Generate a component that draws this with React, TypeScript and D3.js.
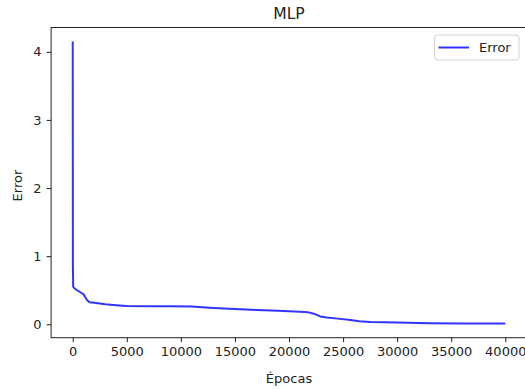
import React, { useEffect, useRef } from 'react';
import * as d3 from 'd3';

// training error
const epochs = [0, 15, 40, 150, 400, 700, 1000, 1150, 1350, 1550, 2000, 3000, 4000, 5000, 7000, 9000, 11000, 12000, 13000, 15000, 17000, 19000, 21000, 21800, 22400, 22900, 23500, 24500, 25500, 26500, 27500, 30000, 33000, 36000, 40000];
const errors = [4.15, 0.88, 0.55, 0.53, 0.5, 0.47, 0.44, 0.4, 0.35, 0.325, 0.315, 0.295, 0.28, 0.268, 0.265, 0.264, 0.26, 0.25, 0.24, 0.225, 0.21, 0.2, 0.185, 0.175, 0.15, 0.115, 0.098, 0.083, 0.065, 0.045, 0.035, 0.025, 0.015, 0.012, 0.01];

const xTicks = [0, 5000, 10000, 15000, 20000, 25000, 30000, 35000, 40000];
const yTicks = [0, 1, 2, 3, 4];

const title = 'MLP';
const xLabel = 'Épocas';
const yLabel = 'Error';
const seriesName = 'Error';

const App = () => {
    const svgRef = useRef<SVGSVGElement>(null);

    useEffect(() => {
        const width = 525;
        const height = 389;
        const left = 51.1, right = 526.9, top = 27.5, bottom = 337.7;
        const font = '"DejaVu Sans", sans-serif';

        const svg = d3.select(svgRef.current);
        svg.selectAll('*').remove();
        svg.attr('width', width).attr('height', height);

        // matplotlib-style 5% margins
        const xMin = d3.min(epochs)!, xMax = d3.max(epochs)!;
        const yMin = d3.min(errors)!, yMax = d3.max(errors)!;
        const xPad = (xMax - xMin) * 0.05, yPad = (yMax - yMin) * 0.05;

        const x = d3.scaleLinear().domain([xMin - xPad, xMax + xPad]).range([left, right]);
        const y = d3.scaleLinear().domain([yMin - yPad, yMax + yPad]).range([bottom, top]);

        svg.append('rect')
            .attr('width', width).attr('height', height).attr('fill', 'white');

        // line
        const line = d3.line<number>()
            .x((d, i) => x(epochs[i]))
            .y(d => y(d));

        svg.append('path')
            .datum(errors)
            .attr('d', line)
            .attr('fill', 'none')
            .attr('stroke', '#0000ff')
            .attr('stroke-opacity', 0.8)
            .attr('stroke-width', 2)
            .attr('stroke-linejoin', 'round');

        // spines
        svg.append('rect')
            .attr('x', left).attr('y', top)
            .attr('width', right - left).attr('height', bottom - top)
            .attr('fill', 'none')
            .attr('stroke', '#222')
            .attr('stroke-width', 1);

        // x axis
        const xAxis = svg.append('g')
            .attr('transform', `translate(0,${bottom})`)
            .call(d3.axisBottom(x).tickValues(xTicks).tickFormat(d3.format('d')).tickSize(4.5).tickPadding(5));
        xAxis.select('.domain').remove();
        xAxis.selectAll('line').attr('stroke', '#222');
        xAxis.selectAll('text')
            .attr('fill', '#222')
            .style('font-family', font)
            .style('font-size', '13px');

        // y axis
        const yAxis = svg.append('g')
            .attr('transform', `translate(${left},0)`)
            .call(d3.axisLeft(y).tickValues(yTicks).tickFormat(d3.format('d')).tickSize(4.5).tickPadding(5));
        yAxis.select('.domain').remove();
        yAxis.selectAll('line').attr('stroke', '#222');
        yAxis.selectAll('text')
            .attr('fill', '#222')
            .style('font-family', font)
            .style('font-size', '13px');

        // title
        svg.append('text')
            .attr('x', (left + right) / 2)
            .attr('y', 19)
            .attr('text-anchor', 'middle')
            .attr('fill', '#222')
            .style('font-family', font)
            .style('font-size', '15.6px')
            .text(title);

        // x label
        svg.append('text')
            .attr('x', (left + right) / 2)
            .attr('y', 383)
            .attr('text-anchor', 'middle')
            .attr('fill', '#222')
            .style('font-family', font)
            .style('font-size', '13px')
            .text(xLabel);

        // y label
        svg.append('text')
            .attr('transform', `translate(22,${(top + bottom) / 2 + 3}) rotate(-90)`)
            .attr('text-anchor', 'middle')
            .attr('fill', '#222')
            .style('font-family', font)
            .style('font-size', '13px')
            .text(yLabel);

        // legend
        const legend = svg.append('g');
        legend.append('rect')
            .attr('x', 434.5).attr('y', 35)
            .attr('width', 84.5).attr('height', 25)
            .attr('rx', 3)
            .attr('fill', 'white')
            .attr('fill-opacity', 0.8)
            .attr('stroke', '#d0d0d0')
            .attr('stroke-width', 1);
        legend.append('line')
            .attr('x1', 438.5).attr('x2', 469)
            .attr('y1', 47.5).attr('y2', 47.5)
            .attr('stroke', '#0000ff')
            .attr('stroke-opacity', 0.8)
            .attr('stroke-width', 2);
        legend.append('text')
            .attr('x', 479)
            .attr('y', 52)
            .attr('fill', '#222')
            .style('font-family', font)
            .style('font-size', '13px')
            .text(seriesName);
    }, []);

    return (
        <div style={{ position: 'absolute', left: 0, top: 0 }}>
            <svg ref={svgRef} style={{ display: 'block' }}></svg>
        </div>
    );
};

export default App;
